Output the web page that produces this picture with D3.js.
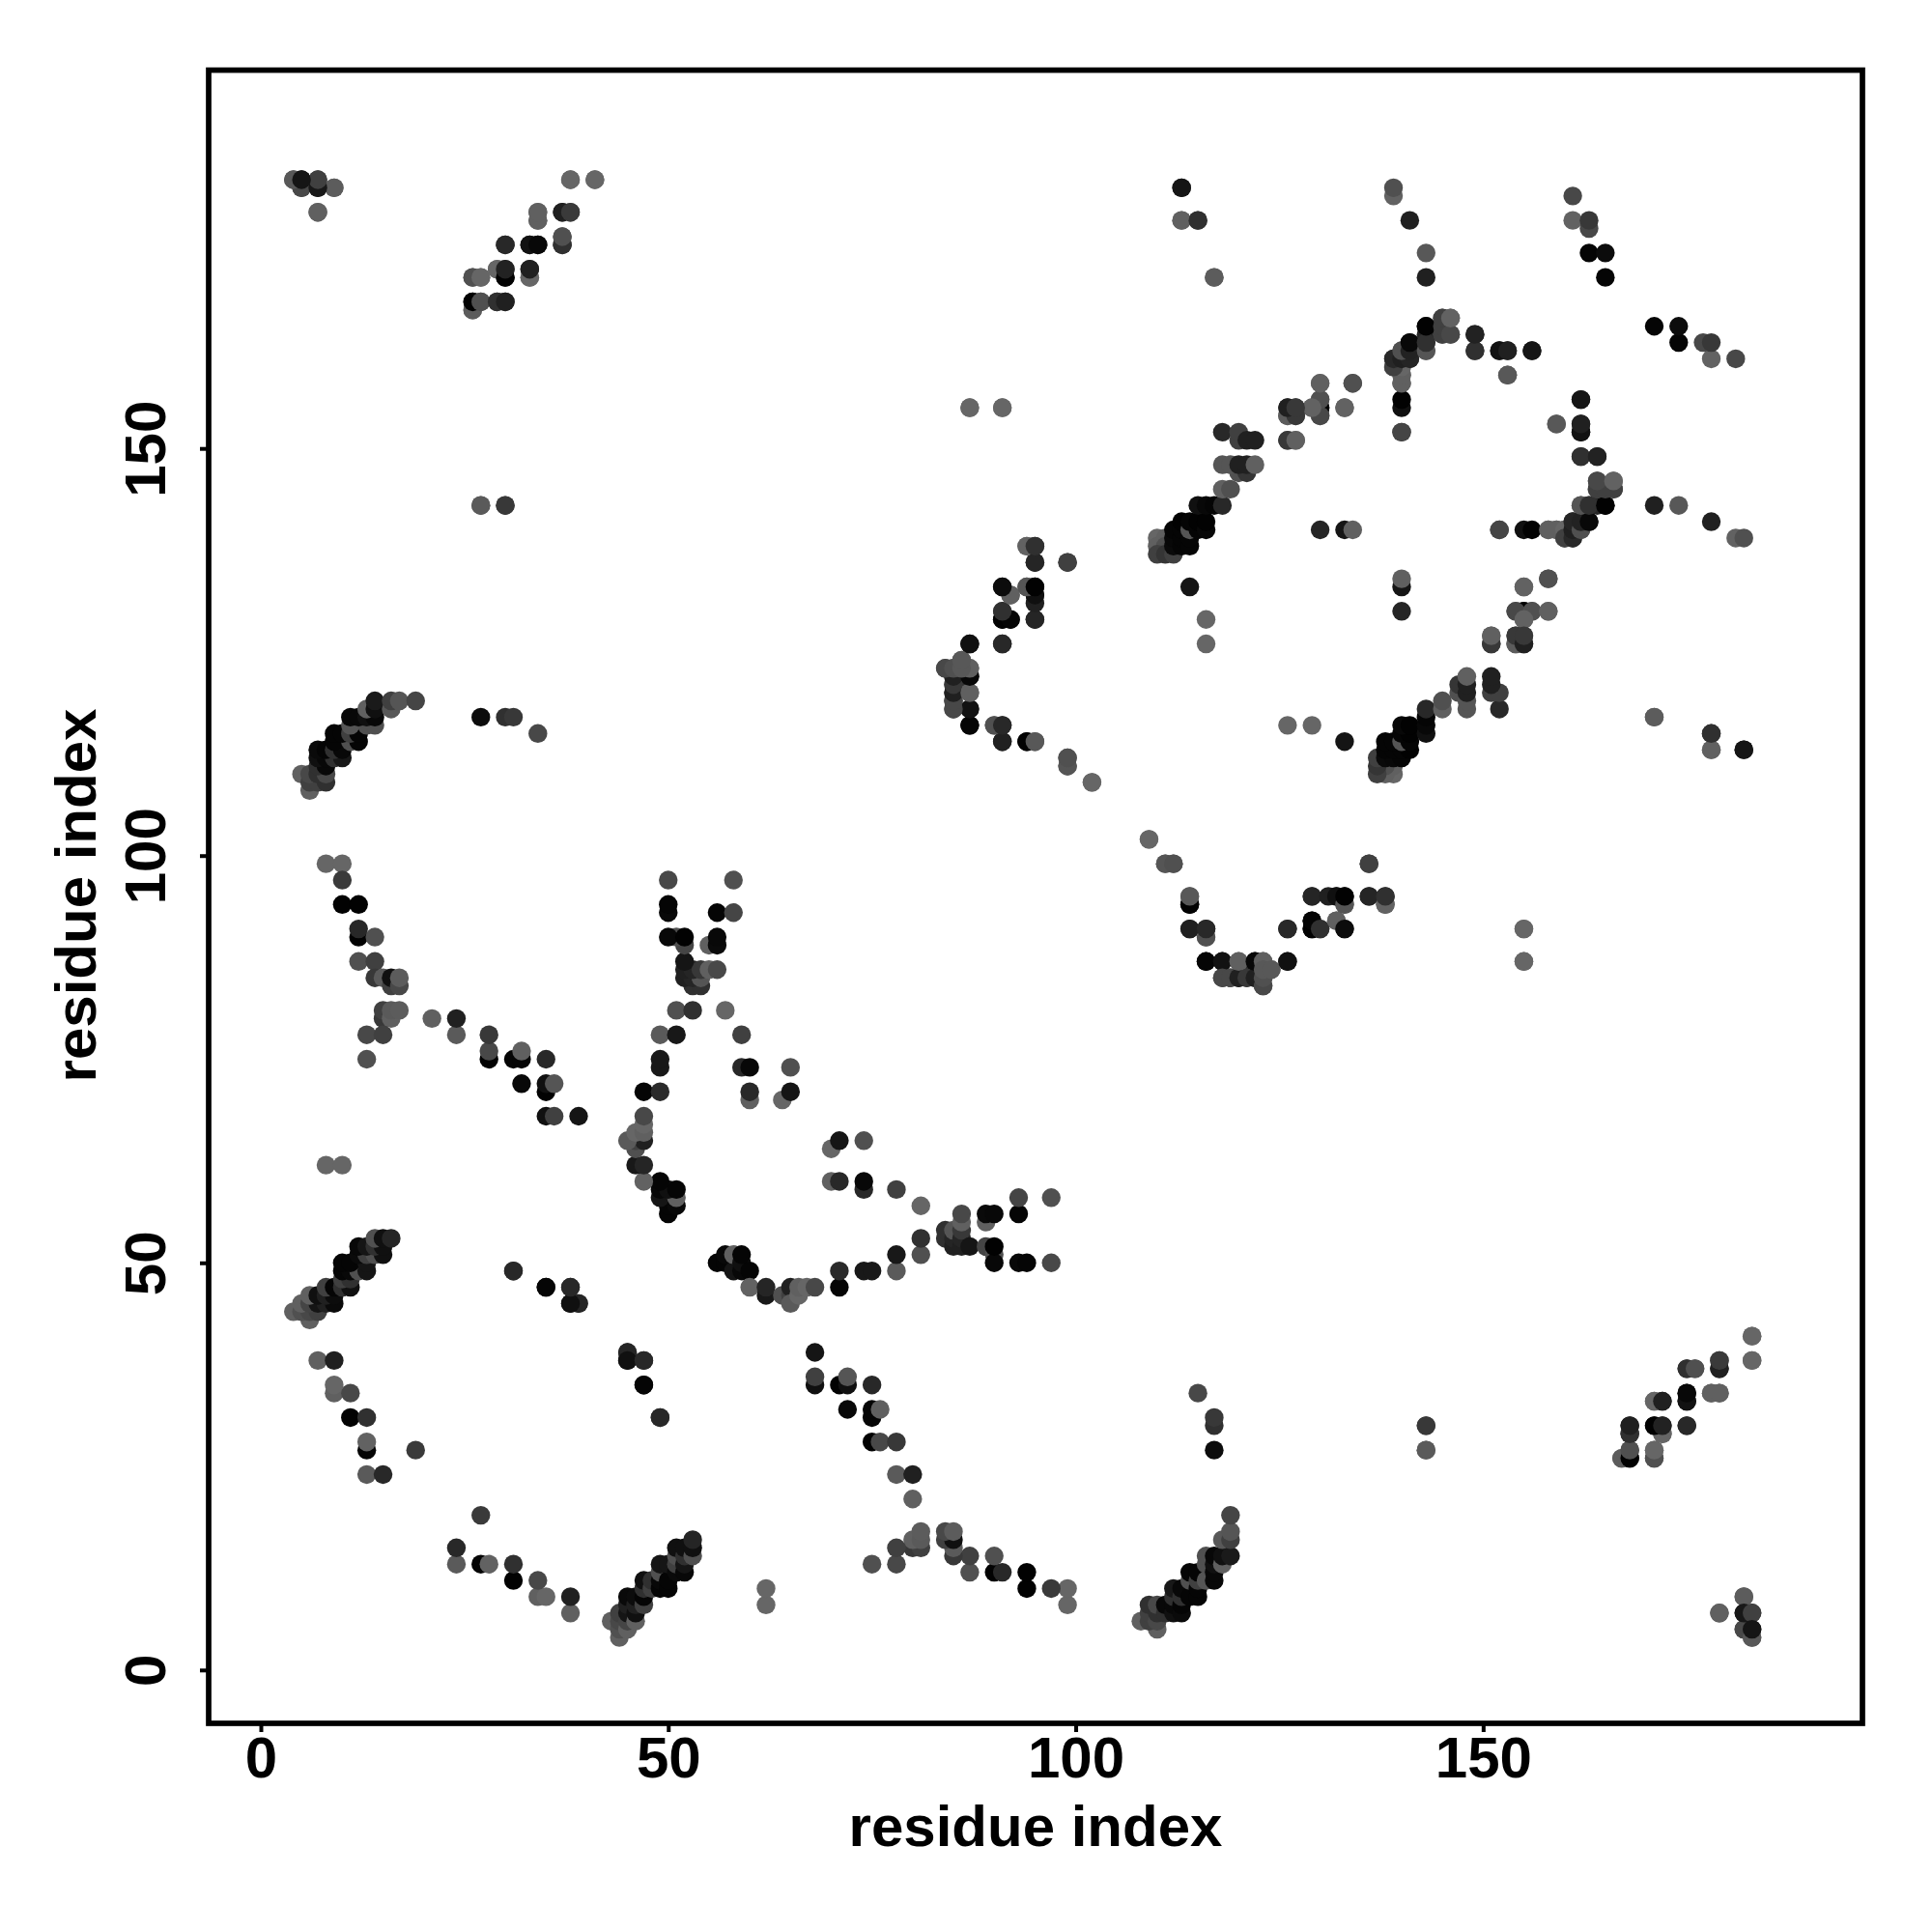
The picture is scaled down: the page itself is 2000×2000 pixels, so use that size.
<!DOCTYPE html>
<html><head><meta charset="utf-8">
<script src="https://cdnjs.cloudflare.com/ajax/libs/d3/7.8.5/d3.min.js"></script>
<style>html,body{margin:0;background:#fff}text{font-family:"Liberation Sans",Arial,sans-serif;font-weight:bold;fill:#000}</style>
</head><body><div id="c"></div>
<script>
const xTicks=[0,50,100,150];
const yTicks=[0,50,100,150];
const axisTitle="residue index";
// contacts: [residue i, residue j, level] with i<j; level 0 = darkest, 0x66 = lightest
const nTerminalStrand=[[6,43,0x60],[4,44,0x60],[5,44,0x50],[6,44,0x48],[7,44,0x40],[5,45,0x60],[6,45,0x45],[7,45,0x15],[8,45,0x20],[9,45,0x0a],[6,46,0x60],[7,46,0x10],[8,46,0x20],[9,46,0x0c],[8,47,0x40],[9,47,0x05],[10,47,0x30],[11,47,0x10],[10,48,0x40],[11,48,0x30],[10,49,0x05],[11,49,0x08],[12,49,0x50],[13,49,0x15],[10,50,0x05],[11,50,0x05],[13,50,0x15],[12,51,0x0a],[13,51,0x40],[14,51,0x50],[15,51,0x10],[12,52,0x08],[13,52,0x15],[14,52,0x30],[15,52,0x10],[14,53,0x50],[15,53,0x10],[16,53,0x25]];
const secondStrand=[[6,108,0x60],[5,110,0x60],[6,109,0x40],[7,109,0x40],[8,109,0x30],[6,110,0x48],[7,110,0x30],[8,110,0x48],[7,111,0x30],[8,111,0x08],[7,112,0x10],[8,112,0x08],[9,112,0x30],[10,112,0x18],[7,113,0x0a],[8,113,0x05],[9,113,0x30],[10,113,0x08],[9,114,0x05],[11,114,0x50],[12,114,0x05],[9,115,0x05],[10,115,0x05],[11,115,0x40],[12,115,0x05],[11,116,0x55],[13,116,0x50],[14,116,0x50],[11,117,0x08],[12,117,0x08],[13,117,0x10],[14,117,0x08],[13,118,0x60],[14,118,0x10],[16,118,0x58],[14,119,0x1a],[16,119,0x40],[17,119,0x55],[19,119,0x45]];
const topLeftPatch=[[4,183,0x60],[5,182,0x40],[5,183,0x15],[7,182,0x20],[7,183,0x40],[9,182,0x58],[7,179,0x5a],[26,171,0x48],[27,171,0x60],[26,167,0x5a],[26,168,0x02],[27,168,0x50],[29,168,0x28],[30,168,0x18],[33,171,0x66],[30,171,0x02],[29,172,0x66],[30,172,0x22],[33,172,0x15],[30,175,0x28],[33,175,0x10],[34,175,0x05],[37,175,0x28],[37,176,0x50],[34,178,0x5c],[34,179,0x5a],[37,179,0x18],[38,179,0x38],[38,183,0x66],[41,183,0x66],[27,143,0x55],[30,143,0x38]];
const isolatedLeft=[[27,117,0x0c],[30,117,0x30],[31,117,0x38],[34,115,0x48],[8,62,0x66],[10,62,0x66],[7,38,0x60],[9,38,0x20],[9,34,0x60],[9,35,0x66],[11,34,0x48],[11,31,0x02],[13,31,0x30],[13,27,0x05],[13,28,0x62],[19,27,0x3a],[13,24,0x5a],[15,24,0x28],[31,49,0x2a],[35,47,0x08],[38,47,0x28],[38,45,0x10],[39,45,0x20],[45,39,0x25],[45,38,0x10],[47,38,0x28],[47,35,0x05],[49,31,0x28]];
const leftDiagonal=[[8,99,0x66],[10,99,0x66],[10,97,0x3a],[10,94,0x02],[12,94,0x02],[12,90,0x02],[12,91,0x28],[14,90,0x50],[12,87,0x50],[14,87,0x40],[14,85,0x38],[15,85,0x5a],[16,84,0x40],[16,85,0x10],[17,84,0x48],[17,85,0x5c],[15,80,0x38],[15,81,0x40],[16,80,0x60],[16,81,0x5a],[17,81,0x5c],[13,78,0x48],[15,78,0x40],[13,75,0x50],[21,80,0x60],[24,78,0x5a],[24,80,0x20],[28,75,0x02],[28,76,0x48],[28,78,0x38],[31,75,0x05],[32,75,0x05],[32,76,0x60],[35,75,0x28],[32,72,0x08],[35,71,0x02],[35,72,0x10],[36,72,0x55],[35,68,0x10],[36,68,0x40],[39,68,0x15]];
const centralPatch=[[50,56,0x05],[50,57,0x05],[51,57,0x08],[49,58,0x15],[51,58,0x60],[49,59,0x08],[50,59,0x10],[51,59,0x05],[49,60,0x05],[47,60,0x62],[46,62,0x18],[47,62,0x25],[46,64,0x50],[46,65,0x40],[47,65,0x20],[45,65,0x5a],[46,66,0x66],[47,66,0x60],[47,67,0x66],[47,68,0x48],[47,71,0x05],[49,71,0x2a],[49,74,0x18],[49,75,0x18],[49,78,0x5a],[51,78,0x18],[51,81,0x50],[53,81,0x30],[57,81,0x66],[59,78,0x40],[59,74,0x28],[60,74,0x08],[65,74,0x50],[60,70,0x60],[60,71,0x28],[64,70,0x66],[65,71,0x15]];
const centralUpper=[[53,84,0x30],[54,84,0x30],[52,85,0x20],[53,85,0x25],[54,85,0x55],[52,86,0x20],[53,86,0x25],[54,86,0x38],[55,86,0x60],[56,86,0x48],[52,87,0x15],[55,89,0x60],[56,89,0x0a],[52,89,0x45],[51,90,0x50],[50,90,0x08],[52,90,0x02],[56,90,0x08],[50,93,0x08],[50,94,0x05],[56,93,0x05],[58,93,0x45],[50,97,0x48],[58,97,0x50]];
const farStrand=[[85,118,0x50],[85,119,0x40],[85,120,0x25],[85,121,0x40],[85,122,0x30],[86,121,0x50],[86,122,0x30],[84,123,0x40],[85,123,0x35],[86,123,0x35],[86,124,0x60],[87,123,0x60],[87,122,0x05],[87,120,0x66],[87,118,0x15],[87,116,0x02],[90,116,0x60],[91,116,0x20],[91,114,0x18],[94,114,0x02],[95,114,0x5a],[99,111,0x55],[99,112,0x55],[102,109,0x66],[87,126,0x18],[91,126,0x25],[91,129,0x02],[91,130,0x35],[92,129,0x05],[95,129,0x28],[91,133,0x12],[92,132,0x55],[94,133,0x60],[95,132,0x15],[95,133,0x02],[94,138,0x62],[95,136,0x28],[95,138,0x28],[99,136,0x38],[87,155,0x66],[91,155,0x66]];
const ringUpper=[[110,139,0x66],[111,139,0x60],[110,138,0x60],[111,138,0x50],[110,137,0x40],[111,137,0x35],[112,137,0x40],[112,138,0x0a],[112,139,0x08],[112,140,0x05],[113,138,0x05],[113,139,0x05],[113,140,0x05],[113,141,0x02],[114,138,0x05],[114,139,0x05],[114,140,0x55],[114,141,0x05],[115,140,0x05],[115,141,0x02],[116,140,0x08],[116,141,0x02],[115,143,0x10],[116,143,0x08],[117,143,0x05],[118,143,0x28],[118,145,0x60],[119,145,0x50],[120,147,0x50],[121,147,0x35],[118,148,0x55],[119,148,0x55],[120,148,0x20],[121,148,0x20],[122,148,0x60],[118,152,0x28],[120,151,0x40],[120,152,0x40],[121,151,0x20],[122,151,0x20],[126,151,0x45],[127,151,0x60],[126,154,0x58],[127,154,0x3a],[129,155,0x62],[126,155,0x30],[127,155,0x35],[130,154,0x50],[130,155,0x02],[130,156,0x50],[130,158,0x66],[133,155,0x60],[134,158,0x50]];
const ringTop=[[139,160,0x48],[139,161,0x30],[140,158,0x60],[140,159,0x5c],[140,160,0x62],[140,161,0x18],[140,162,0x60],[141,161,0x38],[141,162,0x30],[141,163,0x10],[143,162,0x58],[143,163,0x38],[143,164,0x25],[143,165,0x05],[145,164,0x45],[146,164,0x45],[145,166,0x50],[146,166,0x62],[149,162,0x30],[149,164,0x20],[152,162,0x10],[153,162,0x1a],[156,162,0x15],[153,159,0x55],[140,152,0x40],[140,155,0x10],[140,156,0x02]];
const ringSide=[[130,140,0x25],[133,140,0x15],[134,140,0x60],[152,140,0x45],[158,134,0x50],[155,133,0x62],[155,130,0x02],[154,130,0x48],[156,130,0x50],[158,130,0x60],[155,129,0x62],[151,126,0x38],[151,127,0x60],[154,126,0x5c],[154,127,0x38],[155,126,0x20],[155,127,0x38],[158,140,0x60],[159,140,0x60],[160,140,0x66],[160,139,0x40],[161,139,0x28],[161,140,0x20],[161,141,0x25],[162,140,0x50],[162,141,0x22],[163,141,0x08],[162,143,0x55],[163,143,0x30],[165,143,0x02],[164,145,0x40],[165,145,0x40],[166,145,0x40],[164,146,0x48],[166,146,0x62],[162,149,0x30],[164,149,0x22],[159,153,0x58],[162,152,0x12],[162,153,0x20],[162,156,0x15]];
const farLoop=[[109,102,0x66],[111,99,0x55],[112,99,0x50],[114,94,0x02],[114,95,0x58],[114,91,0x20],[116,90,0x50],[116,91,0x28],[116,87,0x05],[118,87,0x12],[118,85,0x48],[119,85,0x48],[120,85,0x20],[121,85,0x38],[122,85,0x20],[120,87,0x60],[122,87,0x08],[123,87,0x60],[123,84,0x48],[123,85,0x50],[123,86,0x58],[124,86,0x58],[126,87,0x10],[126,91,0x28],[129,95,0x25],[129,91,0x02],[129,92,0x05],[130,91,0x30],[132,92,0x60],[133,91,0x0c],[131,95,0x20],[132,95,0x10],[133,94,0x55],[133,95,0x02],[136,95,0x25],[136,99,0x40],[138,94,0x62],[138,95,0x30],[155,91,0x66],[155,87,0x66]];
const topRight=[[113,182,0x15],[113,178,0x60],[115,178,0x30],[117,171,0x62],[139,181,0x62],[139,182,0x50],[141,178,0x20],[143,171,0x20],[143,174,0x58],[161,178,0x62],[161,181,0x48],[163,174,0x05],[163,177,0x48],[163,178,0x38],[165,171,0x05],[165,174,0x0c],[114,133,0x15],[116,126,0x66],[116,129,0x66]];
const veryLong=[[143,30,0x38],[143,27,0x5a],[167,26,0x5c],[168,26,0x02],[168,27,0x50],[168,29,0x30],[168,30,0x20],[171,26,0x50],[171,27,0x66],[172,29,0x66],[171,30,0x02],[172,30,0x22],[171,33,0x66],[172,33,0x20],[175,30,0x28],[175,33,0x12],[175,34,0x08],[178,34,0x60],[179,34,0x60],[175,37,0x30],[176,37,0x50],[179,37,0x20],[179,38,0x3a],[183,38,0x66],[183,41,0x66],[179,7,0x60],[182,9,0x5c],[182,5,0x48],[182,7,0x18],[183,7,0x40],[183,4,0x58],[183,5,0x15],[178,113,0x60],[178,115,0x30],[182,113,0x15],[171,117,0x5c]];

const contacts=[].concat(nTerminalStrand,secondStrand,topLeftPatch,isolatedLeft,leftDiagonal,centralPatch,centralUpper,farStrand,ringUpper,ringTop,ringSide,farLoop,topRight,veryLong);

const W=2000,H=2000;
const svg=d3.select("#c").append("svg").attr("width",W).attr("height",H).style("display","block");
const x=d3.scaleLinear().domain([-6.4,196.55]).range([216,1928]);
const y=d3.scaleLinear().domain([-6.55,196.45]).range([1784,72.6]);
const grey=d3.scaleLinear().domain([0,0x66]).range(["#000000","#666666"]);

const pts=svg.append("g");
contacts.forEach(([i,j,l])=>{
  [[i,j],[j,i]].forEach(([a,b])=>{
    pts.append("circle").attr("cx",x(a)).attr("cy",y(b)).attr("r",9.7).attr("fill",grey(l));
  });
});

const gx=svg.append("g").attr("transform","translate(0,1784)").call(d3.axisBottom(x).tickValues(xTicks).tickSize(9).tickPadding(0).tickFormat(d3.format("d")));
gx.select(".domain").remove();
gx.selectAll(".tick line").attr("stroke","#000").attr("stroke-width",4);
gx.selectAll(".tick text").attr("font-size",60).attr("y",56).attr("dy",0).style("font-family",'"Liberation Sans"').style("font-weight","bold");

const gy=svg.append("g").attr("transform","translate(216,0)").call(d3.axisLeft(y).tickValues(yTicks).tickSize(9).tickFormat(d3.format("d")));
gy.select(".domain").remove();
gy.selectAll(".tick line").attr("stroke","#000").attr("stroke-width",4);
gy.selectAll(".tick text").attr("font-size",60).attr("x",0).attr("y",0).attr("dy",0).attr("text-anchor","middle")
  .attr("transform","translate(-45,0) rotate(-90)").style("font-family",'"Liberation Sans"').style("font-weight","bold");

svg.append("rect").attr("x",216).attr("y",72.6).attr("width",1712).attr("height",1711.4).attr("fill","none").attr("stroke","#000").attr("stroke-width",5.7);

svg.append("text").attr("x",1072).attr("y",1911).attr("text-anchor","middle").attr("font-size",60).text(axisTitle);
svg.append("text").attr("transform","translate(99,927) rotate(-90)").attr("text-anchor","middle").attr("font-size",60).text(axisTitle);
</script></body></html>
